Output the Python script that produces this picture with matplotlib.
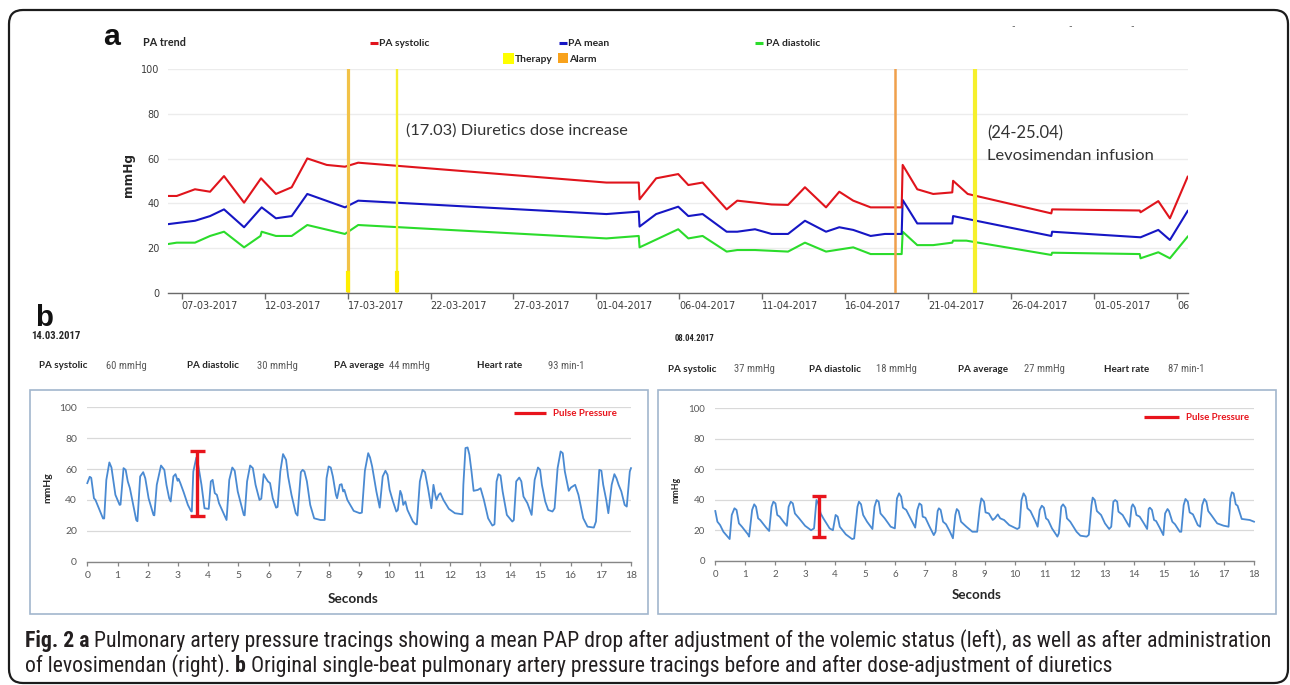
import numpy as np
import matplotlib
matplotlib.use("Agg")
import matplotlib.pyplot as plt
import matplotlib.dates as mdates
from matplotlib.lines import Line2D
from matplotlib.patches import Rectangle, FancyBboxPatch
from matplotlib.transforms import IdentityTransform
from matplotlib import font_manager

plt.rcParams['font.family'] = ['Lato', 'DejaVu Sans']

# ---------------- panel a : PA trend (day offsets from 07-03-2017) ----------------
pa_start = '2017-03-07'
sys_day = [-0.81, -0.30, 0.80, 1.71, 2.55, 3.76, 4.78, 5.68, 6.63, 7.57, 8.74, 9.84, 10.64,
           25.60, 27.55, 27.60, 28.60, 29.93, 30.54, 31.40, 32.85, 33.49, 35.56, 36.55, 37.57,
           38.84, 39.64, 40.48, 41.53, 43.40, 43.46, 44.34, 45.30, 46.45, 46.50, 47.38, 52.42,
           52.47, 57.75, 57.80, 58.87, 59.57, 60.64]
sys_val = [43.3, 43.3, 46.3, 45.2, 52.2, 40.3, 51.2, 44.2, 47.2, 60.1, 57.2, 56.4, 58.2,
           49.3, 49.3, 41.8, 51.2, 53.1, 48.2, 49.3, 37.3, 41.2, 39.5, 39.3, 47.2,
           38.2, 45.2, 41.2, 38.2, 38.2, 57.2, 46.3, 44.2, 44.9, 50.1, 44.2, 35.5,
           37.3, 36.8, 36.0, 41.0, 33.3, 51.9]
mean_day = [-0.81, 0.80, 1.71, 2.55, 3.76, 4.82, 5.68, 6.63, 7.57, 9.84, 10.64, 25.60, 27.55,
            27.60, 28.60, 29.93, 30.54, 31.40, 32.85, 33.49, 34.56, 35.56, 36.55, 37.57, 38.84,
            39.64, 40.48, 41.53, 42.39, 43.40, 43.46, 44.34, 46.45, 46.50, 52.42, 52.47, 57.80,
            58.87, 59.57, 60.64]
mean_val = [30.7, 32.2, 34.3, 37.3, 29.3, 38.2, 33.3, 34.3, 44.2, 38.2, 41.2, 35.2, 36.3,
            29.6, 35.2, 38.5, 34.3, 35.2, 27.3, 27.3, 28.4, 26.3, 26.3, 32.2, 27.3,
            29.3, 28.1, 25.4, 26.3, 26.3, 41.5, 31.0, 31.0, 34.3, 25.4, 27.3, 24.8,
            28.1, 23.6, 36.6]
dia_day = [-0.81, -0.30, 0.80, 1.71, 2.55, 3.76, 4.75, 4.82, 5.68, 6.63, 7.57, 9.84, 10.64,
           25.60, 27.55, 27.60, 29.93, 30.54, 31.40, 32.85, 33.49, 34.56, 36.55, 37.57, 38.84,
           40.48, 41.53, 43.40, 43.46, 44.34, 45.30, 46.45, 46.50, 47.30, 52.42, 52.47, 57.75,
           57.80, 58.87, 59.57, 60.64]
dia_val = [21.8, 22.4, 22.4, 25.4, 27.3, 20.3, 25.4, 27.3, 25.4, 25.4, 30.3, 26.3, 30.3,
           24.3, 25.4, 20.3, 28.4, 24.3, 25.4, 18.4, 19.1, 19.1, 18.4, 22.4, 18.4,
           20.3, 17.3, 17.3, 27.3, 21.3, 21.3, 22.4, 23.3, 23.3, 16.9, 17.9, 17.3,
           15.4, 18.1, 15.4, 25.1]
event_day = [10.0, 13.0, 43.0, 47.8]
event_kind = ['therapy+alarm', 'therapy', 'alarm', 'therapy']
pa_tick_day = [0, 5, 10, 15, 20, 25, 30, 35, 40, 45, 50, 55, 60]
pa_tick_labels = ['07-03-2017', '12-03-2017', '17-03-2017', '22-03-2017', '27-03-2017',
                  '01-04-2017', '06-04-2017', '11-04-2017', '16-04-2017', '21-04-2017',
                  '26-04-2017', '01-05-2017', '06']
pa_yticks = [0, 20, 40, 60, 80, 100]

# ---------------- panel b : single-beat tracings ----------------
left_t = [0.00, 0.08, 0.13, 0.22, 0.27, 0.45, 0.52, 0.56, 0.63, 0.73,
          0.80, 0.93, 1.07, 1.10, 1.20, 1.27, 1.34, 1.41, 1.62, 1.66,
          1.75, 1.85, 1.92, 2.03, 2.19, 2.22, 2.30, 2.44, 2.55, 2.62,
          2.71, 2.76, 2.85, 2.92, 2.99, 3.02, 3.08, 3.19, 3.33, 3.43,
          3.46, 3.51, 3.61, 3.67, 3.78, 3.88, 4.02, 4.09, 4.15, 4.22,
          4.29, 4.36, 4.57, 4.61, 4.70, 4.80, 4.88, 4.98, 5.18, 5.21,
          5.29, 5.39, 5.48, 5.57, 5.70, 5.76, 5.84, 5.90, 5.98, 6.05,
          6.14, 6.25, 6.30, 6.39, 6.48, 6.58, 6.65, 6.76, 6.90, 6.96,
          7.07, 7.13, 7.19, 7.27, 7.38, 7.51, 7.72, 7.86, 7.92, 7.99,
          8.06, 8.13, 8.23, 8.27, 8.36, 8.42, 8.47, 8.51, 8.61, 8.82,
          9.02, 9.09, 9.19, 9.30, 9.36, 9.43, 9.50, 9.57, 9.68, 9.78,
          9.87, 9.94, 10.01, 10.12, 10.23, 10.28, 10.36, 10.41, 10.46, 10.53,
          10.60, 10.78, 10.87, 10.91, 11.01, 11.10, 11.18, 11.28, 11.39, 11.46,
          11.52, 11.56, 11.63, 11.69, 11.79, 11.97, 12.17, 12.42, 12.45, 12.52,
          12.59, 12.65, 12.72, 12.79, 12.93, 13.02, 13.13, 13.27, 13.41, 13.48,
          13.55, 13.61, 13.68, 13.75, 13.89, 14.07, 14.12, 14.20, 14.30, 14.37,
          14.44, 14.57, 14.71, 14.81, 14.92, 14.99, 15.05, 15.16, 15.26, 15.40,
          15.47, 15.57, 15.67, 15.74, 15.81, 15.94, 16.01, 16.15, 16.26, 16.42,
          16.56, 16.77, 16.84, 16.95, 17.02, 17.08, 17.18, 17.25, 17.36, 17.45,
          17.52, 17.59, 17.68, 17.79, 17.86, 17.96, 18.00]
left_p = [50.9, 55.0, 54.3, 41.1, 40.0, 31.4, 28.0, 28.0, 53.0, 64.3,
          61.0, 43.3, 36.8, 37.0, 60.6, 59.5, 52.0, 47.6, 27.0, 26.2,
          55.2, 58.0, 54.0, 41.0, 30.3, 30.0, 49.8, 62.3, 59.5, 49.8,
          41.1, 39.0, 55.2, 56.7, 52.4, 53.7, 50.9, 45.0, 36.8, 32.9,
          32.5, 58.4, 67.5, 62.8, 49.8, 34.6, 34.2, 52.0, 53.0, 44.4,
          43.3, 37.9, 28.6, 27.0, 53.0, 61.0, 58.9, 45.5, 30.3, 30.0,
          52.0, 62.3, 60.6, 49.8, 40.0, 40.8, 56.7, 54.5, 52.0, 50.9,
          41.1, 35.0, 35.5, 58.4, 69.7, 66.0, 55.0, 43.3, 31.4, 29.9,
          58.0, 59.5, 58.4, 52.0, 36.8, 28.1, 27.0, 27.0, 54.0, 61.7,
          61.0, 55.2, 43.3, 41.1, 49.8, 50.2, 45.5, 46.5, 40.0, 32.9,
          31.4, 31.8, 58.9, 70.3, 67.5, 61.7, 53.7, 45.5, 35.0, 55.2,
          58.9, 56.3, 46.5, 39.0, 32.5, 33.5, 45.9, 43.3, 36.8, 39.0,
          33.5, 26.0, 24.2, 24.2, 52.0, 59.5, 58.0, 47.6, 34.6, 49.8,
          43.3, 40.0, 43.3, 44.4, 40.0, 34.2, 31.4, 30.7, 49.8, 73.6,
          74.0, 69.3, 58.4, 45.9, 46.5, 47.6, 40.0, 28.1, 23.4, 24.2,
          52.0, 56.7, 55.8, 45.5, 30.3, 26.0, 27.0, 52.0, 54.5, 52.0,
          42.2, 37.9, 30.3, 53.0, 61.0, 59.5, 49.8, 39.0, 33.5, 32.5,
          34.6, 60.6, 71.4, 70.3, 58.4, 45.9, 48.0, 49.8, 43.3, 28.1,
          22.7, 22.1, 26.0, 59.5, 58.9, 49.8, 40.0, 31.4, 49.8, 56.7,
          54.0, 49.8, 45.5, 36.8, 35.7, 58.4, 60.6]
right_t = [0.00, 0.07, 0.16, 0.27, 0.41, 0.48, 0.55, 0.64, 0.71, 0.79,
           0.89, 1.09, 1.13, 1.23, 1.30, 1.36, 1.43, 1.50, 1.70, 1.80,
           1.88, 1.94, 2.01, 2.07, 2.15, 2.29, 2.39, 2.45, 2.52, 2.59,
           2.66, 2.80, 3.00, 3.20, 3.30, 3.38, 3.44, 3.52, 3.61, 3.82,
           3.93, 4.02, 4.09, 4.16, 4.36, 4.57, 4.64, 4.75, 4.80, 4.87,
           4.94, 5.07, 5.25, 5.32, 5.39, 5.46, 5.52, 5.66, 5.86, 6.00,
           6.07, 6.14, 6.21, 6.27, 6.38, 6.55, 6.68, 6.75, 6.82, 6.89,
           6.93, 7.02, 7.16, 7.30, 7.36, 7.43, 7.47, 7.53, 7.61, 7.71,
           7.84, 7.94, 8.02, 8.07, 8.13, 8.21, 8.39, 8.59, 8.75, 8.84,
           8.89, 8.98, 9.03, 9.14, 9.27, 9.34, 9.44, 9.52, 9.65, 9.82,
           10.09, 10.16, 10.23, 10.30, 10.37, 10.43, 10.53, 10.70, 10.77, 10.84,
           10.91, 10.98, 11.05, 11.12, 11.25, 11.43, 11.48, 11.56, 11.62, 11.70,
           11.75, 11.86, 12.07, 12.20, 12.41, 12.48, 12.57, 12.61, 12.68, 12.75,
           12.89, 13.02, 13.16, 13.23, 13.30, 13.36, 13.43, 13.47, 13.61, 13.77,
           13.84, 13.91, 13.95, 14.02, 14.07, 14.18, 14.32, 14.43, 14.48, 14.52,
           14.59, 14.66, 14.73, 14.86, 14.97, 15.03, 15.11, 15.16, 15.27, 15.36,
           15.52, 15.57, 15.65, 15.71, 15.79, 15.85, 15.96, 16.12, 16.20, 16.27,
           16.34, 16.41, 16.47, 16.57, 16.77, 16.98, 17.15, 17.21, 17.26, 17.32,
           17.39, 17.45, 17.59, 17.86, 18.00]
right_p = [32.6, 25.6, 23.4, 19.0, 15.8, 14.2, 30.0, 34.4, 33.3, 24.5,
           22.3, 17.3, 15.8, 33.3, 37.0, 35.4, 27.8, 26.7, 21.7, 19.5,
           35.4, 38.7, 37.6, 30.0, 28.9, 25.2, 22.9, 35.4, 38.7, 37.6,
           31.0, 27.8, 22.9, 20.0, 21.2, 39.8, 37.6, 31.0, 27.8, 21.2,
           20.0, 30.0, 28.9, 22.3, 17.3, 14.2, 14.6, 35.4, 38.7, 37.0,
           30.0, 25.6, 20.8, 35.4, 39.8, 38.7, 31.0, 27.8, 22.3, 21.2,
           40.9, 44.2, 42.0, 34.8, 33.3, 26.7, 21.7, 33.3, 37.6, 36.5,
           28.9, 28.2, 22.3, 16.8, 19.0, 32.6, 34.4, 33.3, 25.6, 23.9,
           19.0, 14.7, 30.0, 33.9, 32.6, 25.6, 22.3, 19.0, 19.0, 35.4,
           40.9, 38.7, 31.7, 31.0, 26.7, 27.8, 30.4, 27.8, 26.7, 23.4,
           20.8, 21.7, 39.8, 44.2, 42.0, 34.4, 32.6, 25.6, 22.3, 33.3,
           36.1, 34.8, 27.8, 26.7, 21.2, 15.8, 18.0, 35.4, 37.0, 34.8,
           27.8, 25.6, 19.0, 16.4, 15.8, 17.0, 36.5, 41.4, 39.8, 32.6,
           30.0, 24.5, 20.8, 22.3, 38.7, 39.8, 38.7, 32.2, 30.0, 24.5,
           22.3, 35.4, 37.0, 34.8, 30.0, 28.9, 24.5, 20.8, 33.9, 34.8,
           33.3, 26.7, 26.0, 21.2, 16.8, 31.0, 33.9, 32.6, 25.6, 23.9,
           19.0, 19.0, 36.5, 40.5, 38.7, 31.7, 30.4, 23.4, 22.3, 36.5,
           40.5, 38.7, 32.6, 30.0, 24.5, 23.0, 22.3, 40.9, 44.9, 44.2,
           37.0, 36.1, 27.4, 26.7, 25.6]
# pulse pressure bars: (time, low, high)
pp_left = [3.63, 29.3, 71.8]
pp_right = [3.48, 15.8, 42.7]
wave_xticks = list(range(0, 19))
wave_yticks = [0, 20, 40, 60, 80, 100]
left_date = '14.03.2017'
right_date = '08.04.2017'
stat_labels = ['PA systolic', 'PA diastolic', 'PA average', 'Heart rate']
left_stats = ['60 mmHg', '30 mmHg', '44 mmHg', '93 min-1']
right_stats = ['37 mmHg', '18 mmHg', '27 mmHg', '87 min-1']

# ---------------- figure ----------------
W, H, DPI = 1290, 685, 100
fig = plt.figure(figsize=(W / DPI, H / DPI), dpi=DPI, facecolor='white')
R = fig.canvas.get_renderer()

names = {f.name for f in font_manager.fontManager.ttflist}
NARROW = next((n for n in ['Liberation Sans Narrow', 'Roboto Condensed', 'Open Sans Condensed']
               if n in names), 'Lato')
CAPF = next((n for n in ['Liberation Sans Narrow', 'Roboto Condensed', 'Open Sans Condensed', 'Roboto']
             if n in names), 'DejaVu Sans')


def fx(x):
    return x / W


def fy(y):
    return 1 - y / H


def put(x, y, s, size=8, width=None, rot=0, **kw):
    kw.setdefault('ha', 'left')
    kw.setdefault('va', 'baseline')
    t = fig.text(fx(x), fy(y), s, fontsize=size, **kw)
    if width:
        w = t.get_window_extent(R).width
        t.set_fontsize(size * width / w)
    if rot:
        t.set_rotation(rot)
    return t


def hkey(x0, x1, y, color, lw):
    fig.add_artist(Line2D([fx(x0), fx(x1)], [fy(y), fy(y)], transform=fig.transFigure,
                          color=color, lw=lw, solid_capstyle='butt'))


def pbox(x0, y0, x1, y1, **kw):
    fig.add_artist(Rectangle((fx(x0), fy(y1)), fx(x1) - fx(x0), fy(y0) - fy(y1),
                             transform=fig.transFigure, **kw))


RED, BLUE, GREEN = '#e0141c', '#1616c4', '#2bdc2b'
TXT = '#262626'

# ---- panel a axes ----
x0 = mdates.datestr2num(pa_start)
axA = fig.add_axes([fx(168), fy(292.7), fx(1188) - fx(168), fy(69.3) - fy(292.7)])
axA.patch.set_alpha(0)
axA.plot(x0 + np.array(dia_day), dia_val, color=GREEN, lw=1.5, zorder=2)
axA.plot(x0 + np.array(mean_day), mean_val, color=BLUE, lw=1.5, zorder=2)
axA.plot(x0 + np.array(sys_day), sys_val, color=RED, lw=1.5, zorder=2)
ev_style = {'therapy+alarm': ('#f2c247', 2.3), 'therapy': ('#f6f02c', 1.7), 'alarm': ('#f0a04c', 1.8)}
for d, k in zip(event_day, event_kind):
    c, lw = ev_style[k]
    if k == 'therapy' and d > 40:
        lw = 3.0
    axA.axvline(x0 + d, color=c, lw=lw, zorder=3)
    if k != 'alarm' and d < 20:
        axA.axvline(x0 + d, ymin=0.01, ymax=0.09, color='#ffee00', lw=3.0, zorder=3)
axA.set_xlim(x0 - 0.826, x0 + 60.66)
axA.set_ylim(0, 100)
axA.set_yticks(pa_yticks)
axA.set_xticks(x0 + np.array(pa_tick_day))
axA.set_xticklabels(pa_tick_labels, ha='left')
axA.grid(axis='y', color='#ececec', lw=1.0)
axA.set_axisbelow(True)
for s in ['top', 'right', 'left']:
    axA.spines[s].set_visible(False)
axA.spines['bottom'].set_color('#6a6a6a')
axA.spines['bottom'].set_linewidth(1.0)
axA.tick_params(axis='x', length=4.5, width=1.0, color='#6a6a6a', pad=1.5,
                labelsize=7, labelcolor='#3c3c3c')
axA.tick_params(axis='y', length=0, pad=6, labelsize=7, labelcolor='#3c3c3c')
for lbl in axA.get_xticklabels() + axA.get_yticklabels():
    lbl.set_family('DejaVu Sans')

put(103, 45, 'a', 24, width=17, family='Liberation Sans', weight='bold', color='#111111')
put(143, 45.5, 'PA trend', 8, width=43, weight='bold', color=TXT)
leg_fs = put(379, 46.5, 'PA systolic', 8, width=51, weight='bold', color=TXT).get_fontsize()
hkey(370, 378, 43, RED, 2.2)
hkey(559, 567, 43, BLUE, 2.2)
put(568, 46.5, 'PA mean', leg_fs, weight='bold', color=TXT)
hkey(755, 763, 43, GREEN, 2.2)
put(766, 46.5, 'PA diastolic', leg_fs, weight='bold', color=TXT)
pbox(503, 53, 514, 64, facecolor='#ffff00', edgecolor='none')
put(515, 61.5, 'Therapy', leg_fs, weight='bold', color=TXT)
pbox(558, 53, 568, 63, facecolor='#f8a21c', edgecolor='none')
put(569, 61.5, 'Alarm', leg_fs, weight='bold', color=TXT)
put(129, 175, 'mmHg', 8, width=44, rot=90, family='DejaVu Sans', weight='bold',
    color=TXT, ha='center', va='center')
put(406, 135, '(17.03) Diuretics dose increase', 12, width=221, color='#333333')
put(987, 138, '(24-25.04)', 12, width=76, color='#333333')
put(987, 160, 'Levosimendan infusion', 12, width=166, color='#333333')
for xd in [1013, 1070, 1132]:
    put(xd, 29, '-', 7, color='#555555', ha='center')

# ---- panel b ----
put(35, 326, 'b', 24, width=18, family='Liberation Sans', weight='bold', color='#111111')
put(30.7, 338.5, left_date, 8, width=49, family=NARROW, weight='bold', color=TXT)
put(674.5, 341, right_date, 8, width=40, family=NARROW, weight='bold', color=TXT)

lab_fs = put(39, 368.5, stat_labels[0], 8, width=49, weight='bold', color=TXT).get_fontsize()
val_fs = put(106, 369, left_stats[0], 8, width=41, family=NARROW, color='#5a5a5a').get_fontsize()
lx_lab = [39, 187, 334, 477]
lx_val = [106, 257, 389, 548]
rx_lab = [668.4, 809, 958, 1104]
rx_val = [733.7, 876.5, 1023.5, 1167.5]
for i in range(4):
    if i > 0:
        put(lx_lab[i], 368.5, stat_labels[i], lab_fs, weight='bold', color=TXT)
        put(lx_val[i], 369, left_stats[i], val_fs, family=NARROW, color='#5a5a5a')
    put(rx_lab[i], 372, stat_labels[i], lab_fs, weight='bold', color=TXT)
    put(rx_val[i], 372.5, right_stats[i], val_fs, family=NARROW, color='#5a5a5a')

BOXC = '#a2b6cd'
pbox(30, 390, 648, 614, fill=False, edgecolor=BOXC, lw=1.2)
pbox(658, 390, 1276, 614, fill=False, edgecolor=BOXC, lw=1.2)

WAVEC = '#4a8ad2'
PPC = '#e8141c'


def style_wave(ax, size):
    ax.patch.set_alpha(0)
    ax.set_xlim(0, 18)
    ax.set_ylim(0, 100)
    ax.set_xticks(wave_xticks)
    ax.set_yticks(wave_yticks)
    ax.grid(axis='y', color='#d9d9d9', lw=0.9)
    ax.set_axisbelow(True)
    for s in ['top', 'right', 'left']:
        ax.spines[s].set_visible(False)
    ax.spines['bottom'].set_color('#868686')
    ax.spines['bottom'].set_linewidth(1.0)
    ax.tick_params(axis='x', length=3, width=0.9, color='#868686', pad=4,
                   labelsize=size, labelcolor='#595959')
    ax.tick_params(axis='y', length=0, pad=7.5, labelsize=size, labelcolor='#595959')


axL = fig.add_axes([fx(87.3), fy(561.7), fx(631) - fx(87.3), fy(407.3) - fy(561.7)])
style_wave(axL, 7.5)
axL.plot(left_t, left_p, color=WAVEC, lw=1.3, zorder=3, clip_on=False)
axL.errorbar([pp_left[0]], [pp_left[1]], yerr=[[0], [pp_left[2] - pp_left[1]]], fmt='none',
             ecolor=PPC, elinewidth=2.4, capsize=5.4, capthick=2.4, zorder=5)

axR = fig.add_axes([fx(715.3), fy(560.7), fx(1254) - fx(715.3), fy(408.3) - fy(560.7)])
style_wave(axR, 7.0)
axR.plot(right_t, right_p, color=WAVEC, lw=1.3, zorder=3, clip_on=False)
axR.errorbar([pp_right[0]], [pp_right[1]], yerr=[[0], [pp_right[2] - pp_right[1]]], fmt='none',
             ecolor=PPC, elinewidth=2.4, capsize=4.7, capthick=2.4, zorder=5)

hkey(514, 546, 413.3, PPC, 2.3)
put(553, 416.3, 'Pulse Pressure', 7.5, width=64, weight='bold', color=PPC)
hkey(1144, 1178.5, 417.3, PPC, 2.3)
put(1185.5, 420.3, 'Pulse Pressure', 7.5, width=63, weight='bold', color=PPC)

put(48, 488, 'mmHg', 8, width=31, rot=90, weight='bold', color=TXT, ha='center', va='center')
put(676, 490, 'mmHg', 8, width=26, rot=90, weight='bold', color=TXT, ha='center', va='center')
put(353.5, 603, 'Seconds', 10, width=51, weight='bold', color=TXT, ha='center')
put(977, 599, 'Seconds', 10, width=50, weight='bold', color=TXT, ha='center')


# ---- caption ----
def rich(x, y, pieces, size, family, width=None, color='#231f20'):
    arts = [fig.text(0, fy(y), s, fontsize=size, fontweight=wt, family=family, color=color,
                     ha='left', va='baseline') for s, wt in pieces]

    def measure():
        ws = [a.get_window_extent(R).width for a in arts]
        fs = arts[0].get_fontsize()
        a1 = fig.text(0, 0, 'n n', fontsize=fs, family=family)
        a2 = fig.text(0, 0, 'nn', fontsize=fs, family=family)
        sp = a1.get_window_extent(R).width - a2.get_window_extent(R).width
        a1.remove()
        a2.remove()
        return ws, sp

    ws, sp = measure()
    if width:
        k = width / (sum(ws) + sp * (len(ws) - 1))
        for a in arts:
            a.set_fontsize(a.get_fontsize() * k)
        ws, sp = measure()
    cx = x
    for a, w in zip(arts, ws):
        a.set_x(fx(cx))
        cx += w + sp
    return arts[0].get_fontsize()


cap1 = [('Fig. 2 a', 'bold'),
        ('Pulmonary artery pressure tracings showing a mean PAP drop after adjustment of the '
         'volemic status (left), as well as after administration', 'normal')]
cap2 = [('of levosimendan (right).', 'normal'), ('b', 'bold'),
        ('Original single-beat pulmonary artery pressure tracings before and after '
         'dose-adjustment of diuretics', 'normal')]
fs_cap = rich(25, 647, cap1, 12, CAPF, width=1246)
rich(25, 672, cap2, fs_cap, CAPF)

# ---- outer rounded frame ----
fig.add_artist(FancyBboxPatch((9, H - 683), 1279, 673, boxstyle='round,pad=0,rounding_size=14',
                              transform=IdentityTransform(), fill=False, ec='#1c1c1c', lw=1.6))

fig.savefig('out.png', dpi=DPI, facecolor='white')
